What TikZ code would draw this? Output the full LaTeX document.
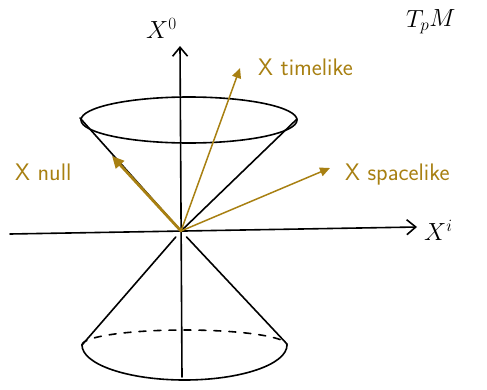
\documentclass[tikz,border=0pt]{standalone}
\usepackage{amsmath}
\usepackage{tikz}
\usetikzlibrary{arrows.meta}
\definecolor{vecgold}{RGB}{168,128,18}

\begin{document}
\begin{tikzpicture}[
  x=1bp, y=1bp,
  font=\sffamily\fontsize{24}{28}\selectfont,
  ax/.style={black, line width=1.6bp, line cap=round},
  axis/.style={ax, -{Straight Barb[length=9bp, width=15bp, line width=1.6bp]}},
  vec/.style={vecgold, line width=1.5bp, line cap=round, -{Triangle[length=10bp, width=9bp]}},
  nullvec/.style={vec, line width=2.8bp, -{Triangle[length=12bp, width=11bp]}},
  lab/.style={anchor=base west, inner sep=0pt, text=vecgold},
  axl/.style={anchor=base west, inner sep=0pt, font=\fontsize{27}{30}\selectfont}]

\useasboundingbox (0,0) rectangle (487,389);

\coordinate (O) at (181,158);
\coordinate (xl) at (10,155);
\coordinate (xr) at (417,162);
\coordinate (tb) at (182,12);
\coordinate (tt) at (180,343);
\coordinate (ul) at (80,271);
\coordinate (ur) at (297,270);
\coordinate (bl) at (82,44);
\coordinate (br) at (287,45);
\coordinate (tl) at (240,321);
\coordinate (sl) at (330,221);
\coordinate (nl) at (112,233);

\draw[axis] (xl) -- (xr);
\draw[axis] (tb) -- (tt);

\draw[ax] (189,269) ellipse[x radius=108, y radius=23];
\draw[ax] (ul) -- (O) -- (ur);
\draw[ax, shorten <=8bp] (O) -- (bl);
\draw[ax, shorten <=8bp] (O) -- (br);
\draw[ax] (bl) arc[start angle=180, end angle=360, x radius=102.5, y radius=35];
\draw[ax, dash pattern=on 7bp off 8bp] (bl) arc[start angle=180, end angle=0, x radius=102.5, y radius=15];

\draw[nullvec] (O) -- (nl);
\draw[vec] (O) -- (tl);
\draw[vec] (O) -- (sl);

\node[axl] (x0) at (146,351) {$X^0$};
\node[axl] (xi) at (424,149) {$X^i$};
\node[axl] (tpm) at (406,362) {$T_pM$};

\node[lab] (tlab) at (258,314) {X timelike};
\node[lab] (nlab) at (15,209) {X null};
\node[lab] (slab) at (345,209) {X spacelike};
\end{tikzpicture}
\end{document}
